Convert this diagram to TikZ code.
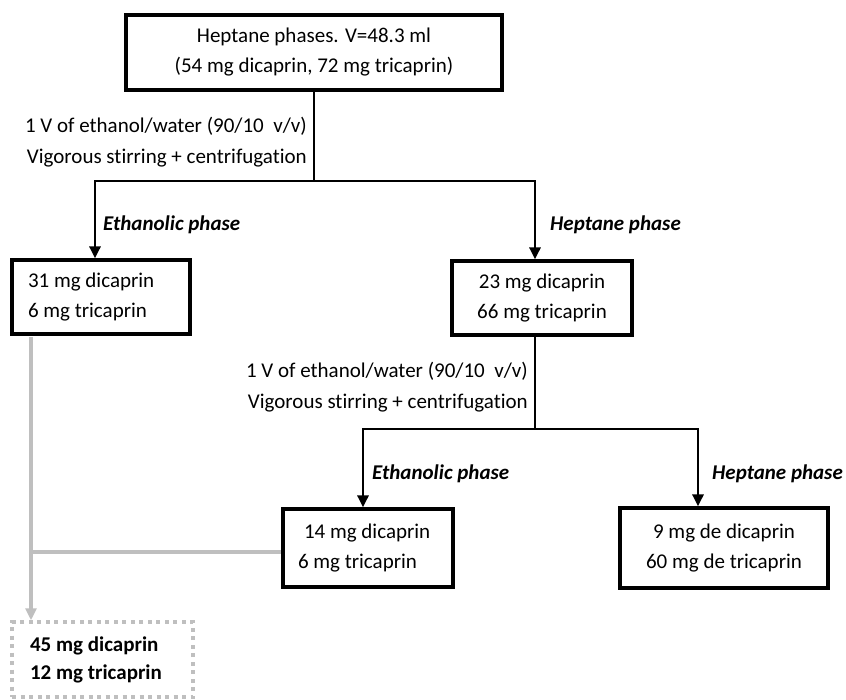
\documentclass[tikz,border=0pt]{standalone}
\usepackage{fontspec}
\setmainfont{Carlito}[Ligatures=CommonOff]
\usetikzlibrary{arrows.meta}
\definecolor{lgray}{RGB}{191,191,191}
\begin{document}
\begin{tikzpicture}[x=1pt,y=-1pt,
  box/.style={draw=black, line width=3.2pt, minimum height=76pt, inner sep=0pt, align=center, font=\fontsize{21}{30}\selectfont},
  lbl/.style={font=\fontsize{21}{30}\selectfont\bfseries\itshape, anchor=west, inner sep=0pt},
  note/.style={font=\fontsize{21}{31}\selectfont, align=flush right, anchor=east, inner sep=0pt},
  conn/.style={line width=2.8pt, draw=black, line cap=rect},
  arr/.style={line width=2.8pt, draw=black, -{Triangle[length=12pt,width=11pt]}},
  gline/.style={line width=4pt, draw=lgray},
  garr/.style={line width=4pt, draw=lgray, -{Triangle[length=12pt,width=11pt]}},
  fbox/.style={draw=lgray, line width=3.5pt, dash pattern=on 4pt off 4.5pt, minimum height=75pt, inner sep=0pt, align=flush left, font=\fontsize{21}{28}\selectfont\bfseries},
]
\useasboundingbox (0,0) rectangle (846,700);

\node[box, minimum width=376pt, minimum height=75pt] (top) at (314,52.5)
  {Heptane phases. V=48.3 ml\\(54 mg dicaprin, 72 mg tricaprin)};
\node[box, minimum width=178pt, minimum height=74pt, align=flush left, text width=146pt] (b31) at (101,297)
  {31 mg dicaprin\\6 mg tricaprin};
\node[box, minimum width=180pt, minimum height=74pt] (b23) at (542,298)
  {23 mg dicaprin\\66 mg tricaprin};
\node[box, minimum width=170pt, minimum height=78pt, align=flush left, text width=140pt] (b14) at (368,548)
  {\hspace*{6pt}14 mg dicaprin\\6 mg tricaprin};
\node[box, minimum width=208pt, minimum height=80pt] (b9) at (724,548)
  {9 mg de dicaprin\\60 mg de tricaprin};
\node[fbox, minimum width=181pt, text width=145pt] (fin) at (102.5,659.5)
  {45 mg dicaprin\\12 mg tricaprin};

\node[note] (n1) at (307,142) {1 V of ethanol/water (90/10\ \ v/v)\\Vigorous stirring + centrifugation};
\node[note] (n2) at (528,387) {1 V of ethanol/water (90/10\ \ v/v)\\Vigorous stirring + centrifugation};

\node[lbl] (l1) at (103,225) {Ethanolic phase};
\node[lbl] (l2) at (550,225) {Heptane phase};
\node[lbl] (l3) at (372,474) {Ethanolic phase};
\node[lbl] (l4) at (712,474) {Heptane phase};

% first split
\coordinate (j1) at (314,181);
\coordinate (j1l) at (95,181);
\coordinate (j1r) at (535,181);
\draw[conn] (top.south) -- (j1);
\draw[conn] (j1l) -- (j1r);
\draw[arr] (j1l) -- (j1l |- b31.north);
\draw[arr] (j1r) -- (j1r |- b23.north);

% second split
\coordinate (j2) at (535,429);
\coordinate (j2l) at (363,429);
\coordinate (j2r) at (698,429);
\draw[conn] (j2 |- b23.south) -- (j2);
\draw[conn] (j2l) -- (j2r);
\draw[arr] (j2l) -- (j2l |- b14.north);
\draw[arr] (j2r) -- (j2r |- b9.north);

% pooled ethanolic phases
\coordinate (g1) at (31,552);
\draw[gline] (g1) -- (g1 -| b14.west);
\draw[garr] ([yshift=-1.6pt]g1 |- b31.south) -- (g1 |- fin.north);
\end{tikzpicture}
\end{document}
